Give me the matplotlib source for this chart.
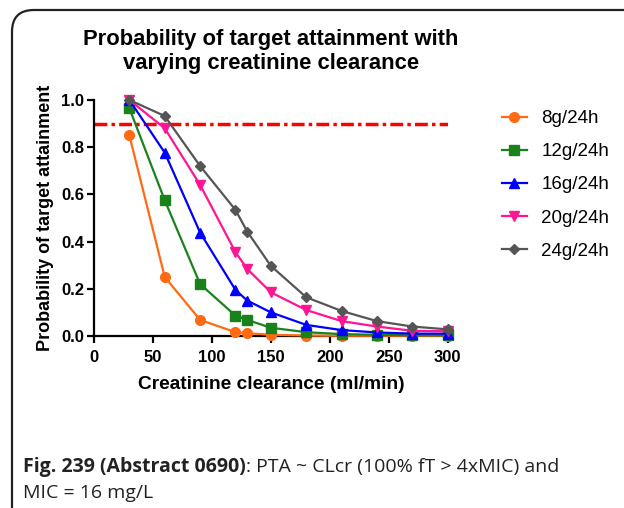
import matplotlib
matplotlib.use("Agg")
import matplotlib.pyplot as plt
from matplotlib.patches import FancyBboxPatch

clcr = [30, 60, 90, 120, 130, 150, 180, 210, 240, 270, 300]
labels = ["8g/24h", "12g/24h", "16g/24h", "20g/24h", "24g/24h"]
pta_8 = [0.85, 0.25, 0.068, 0.016, 0.012, 0.005, 0.002, 0.001, 0.001, 0.001, 0.001]
pta_12 = [0.965, 0.575, 0.22, 0.086, 0.068, 0.035, 0.016, 0.008, 0.005, 0.003, 0.003]
pta_16 = [1.0, 0.777, 0.438, 0.195, 0.15, 0.10, 0.047, 0.025, 0.015, 0.01, 0.01]
pta_20 = [1.0, 0.88, 0.64, 0.355, 0.284, 0.185, 0.11, 0.063, 0.04, 0.022, 0.02]
pta_24 = [1.0, 0.932, 0.72, 0.534, 0.442, 0.297, 0.164, 0.106, 0.063, 0.04, 0.028]
target = 0.9

series = [pta_8, pta_12, pta_16, pta_20, pta_24]
colors = ["#FF6A13", "#1A821A", "#0000FF", "#FF1493", "#555555"]
markers = ["o", "s", "^", "v", "D"]
msizes = [7, 7, 7.5, 7.5, 5]

plt.rcParams['font.family'] = ['Liberation Sans', 'DejaVu Sans']

fig = plt.figure(figsize=(6.24, 5.08), dpi=100)
ax = fig.add_axes([0.1506, 0.3386, 0.567, 0.4646])

for ys, c, m, ms, lab in zip(series, colors, markers, msizes, labels):
    ax.plot(clcr, ys, color=c, marker=m, markersize=ms, lw=1.6, label=lab,
            clip_on=False, zorder=3)

ax.plot([0, 300], [target, target], color="#FF0000", lw=2.5,
        linestyle=(0, (3.7, 1.2, 1, 1.2)), zorder=2)

ax.set_xlim(0, 300)
ax.set_ylim(0, 1.0)
ax.set_xticks(range(0, 301, 50))
ax.set_yticks([0.0, 0.2, 0.4, 0.6, 0.8, 1.0])
ax.set_yticklabels(["0.0", "0.2", "0.4", "0.6", "0.8", "1.0"])
for s in ["top", "right"]:
    ax.spines[s].set_visible(False)
for s in ["left", "bottom"]:
    ax.spines[s].set_linewidth(1.6)
    ax.spines[s].set_color("black")
ax.tick_params(direction="out", length=5, width=1.6, labelsize=12, pad=2)
ax.tick_params(axis="x", pad=5)
for t in ax.get_xticklabels() + ax.get_yticklabels():
    t.set_fontweight("bold")

ax.set_xlabel("Creatinine clearance (ml/min)", fontsize=13.8, fontweight="bold", labelpad=8)
ax.set_ylabel("Probability of target attainment", fontsize=13, fontweight="bold", labelpad=5)
ax.set_title("Probability of target attainment with\nvarying creatinine clearance",
             fontsize=15.8, fontweight="bold", pad=22, linespacing=1.2)

leg = ax.legend(loc="upper left", bbox_to_anchor=(1.105, 1.028), frameon=False,
                fontsize=13.5, handlelength=1.35, labelspacing=0.85, handletextpad=0.75)

# frame around figure panel
box = FancyBboxPatch((12 / 624, -0.2), 1.2, (508 - 10) / 508 + 0.2,
                     boxstyle="round,pad=0,rounding_size=0.035",
                     transform=fig.transFigure, fill=False, lw=1.6,
                     edgecolor="#222222", mutation_aspect=624 / 508)
fig.patches.append(box)

cap_font = ["Open Sans", "DejaVu Sans"]
cap_size = 14
bold_txt = fig.text(23 / 624, 1 - 467 / 508, "Fig. 239 (Abstract 0690)", fontsize=cap_size,
                    fontweight="bold", family=cap_font, color="#222222", va="center")
fig.text(23 / 624, 1 - 493 / 508, "MIC = 16 mg/L", fontsize=cap_size,
         family=cap_font, color="#222222", va="center")

fig.canvas.draw()
r = fig.canvas.get_renderer()
bb = bold_txt.get_window_extent(r)
fig.text(bb.x1 / fig.bbox.width, 1 - 467 / 508, ": PTA ~ CLcr (100% fT > 4xMIC) and",
         fontsize=cap_size, family=cap_font, color="#222222", va="center")

fig.savefig("out.png", dpi=100)
